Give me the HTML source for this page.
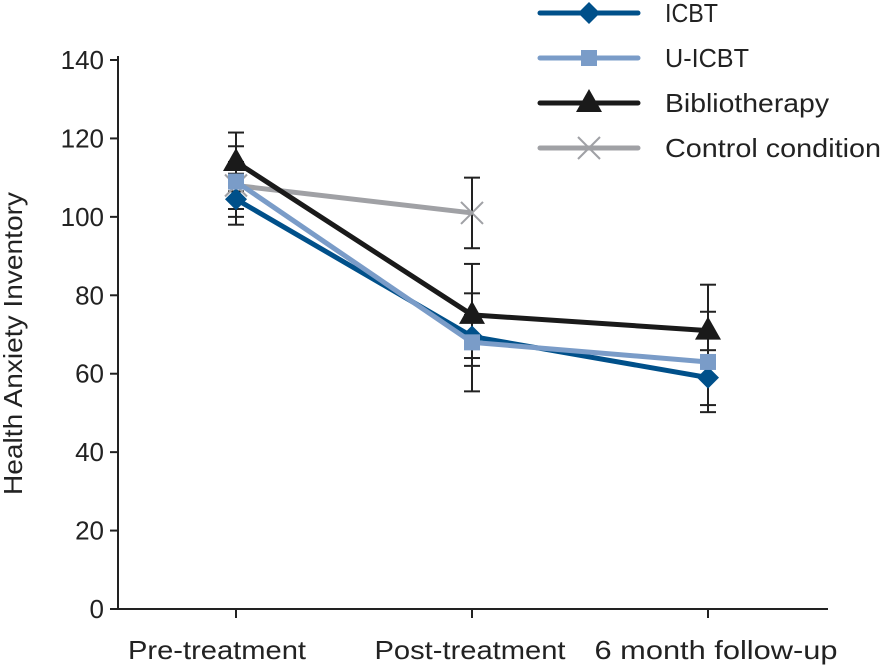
<!DOCTYPE html>
<html><head><meta charset="utf-8"><style>
body{margin:0;background:#fff}
svg{display:block;font-family:"Liberation Sans",sans-serif}
</style></head><body>
<svg id="c" width="881" height="667"></svg>
<script>
const categories=["Pre-treatment","Post-treatment","6 month follow-up"];
const yTicks=[0,20,40,60,80,100,120,140];
const icbt=[104.5,69.5,59];
const uicbt=[109,68,63];
const biblio=[114,75,71];
const control=[108,101];
const icbtErr=[6.5,5.5,7];
const uicbtErr=[9,12.5,12.8];
const biblioErr=[7.5,13,11.7];
const controlErr=[6,9];
const NS="http://www.w3.org/2000/svg";
const svg=document.getElementById('c');
const labelLayout=[{w:178,dx:-19},{w:191,dx:-2},{w:243,dx:8}];
const y=v=>609-v*(549/140);
const x=i=>236+i*236;
function el(t,a,p){const e=document.createElementNS(NS,t);for(const k in a)e.setAttribute(k,a[k]);(p||svg).appendChild(e);return e;}
let ax=el('line',{x1:118,y1:56,x2:118,y2:610,stroke:'#222','stroke-width':2});


let bx=el('line',{x1:117,y1:609,x2:828,y2:609,stroke:'#222','stroke-width':2});


yTicks.forEach(v=>{
 el('line',{x1:110,y1:y(v),x2:118,y2:y(v),stroke:'#222','stroke-width':2});
 const t=el('text',{x:104,y:y(v)+9,'text-anchor':'end','font-size':26,fill:'#222'});t.textContent=v;
 
 
});
categories.forEach((c,i)=>{
 el('line',{x1:x(i),y1:609,x2:x(i),y2:618,stroke:'#222','stroke-width':2});
 const L=labelLayout[i];
 const t=el('text',{x:x(i)+L.dx-L.w/2,y:659,'font-size':26,fill:'#222',textLength:L.w,lengthAdjust:'spacingAndGlyphs'});t.textContent=c;
 
 
});
const yt=el('text',{transform:'translate(22,495) rotate(-90)','font-size':26,fill:'#222',textLength:303,lengthAdjust:'spacingAndGlyphs'});
yt.textContent='Health Anxiety Inventory';


function marker(type,cx,cy,col,g){
 if(type==='diamond')el('polygon',{points:`${cx},${cy-11} ${cx+11},${cy} ${cx},${cy+11} ${cx-11},${cy}`,fill:col},g);
 else if(type==='square')el('rect',{x:cx-8,y:cy-8,width:16,height:16,fill:col},g);
 else if(type==='tri')el('polygon',{points:`${cx},${cy-14} ${cx+13},${cy+9} ${cx-13},${cy+9}`,fill:col},g);
 else {el('line',{x1:cx-11,y1:cy-11,x2:cx+11,y2:cy+11,stroke:col,'stroke-width':2},g);el('line',{x1:cx-11,y1:cy+11,x2:cx+11,y2:cy-11,stroke:col,'stroke-width':2},g);}
}
const series=[
 {name:'control',label:'Control condition',data:control,err:controlErr,col:'#a0a1a5',m:'x',ly:148,w:216},
 {name:'icbt',label:'ICBT',data:icbt,err:icbtErr,col:'#00508a',m:'diamond',ly:13,w:53},
 {name:'u-icbt',label:'U-ICBT',data:uicbt,err:uicbtErr,col:'#7a9cc8',m:'square',ly:58,w:84},
 {name:'bibliotherapy',label:'Bibliotherapy',data:biblio,err:biblioErr,col:'#1a1a1a',m:'tri',ly:103,w:164}
];
series.forEach(s=>{
 s.data.forEach((v,i)=>{
  const g=el('g',{});
  
  
  const a=y(v+s.err[i]),b=y(v-s.err[i]);
  el('line',{x1:x(i),y1:a,x2:x(i),y2:b,stroke:'#222','stroke-width':2},g);
  el('line',{x1:x(i)-8,y1:a,x2:x(i)+8,y2:a,stroke:'#222','stroke-width':2},g);
  el('line',{x1:x(i)-8,y1:b,x2:x(i)+8,y2:b,stroke:'#222','stroke-width':2},g);
 });
});
series.forEach(s=>{
 const g=el('g',{});
 
 
 el('polyline',{points:s.data.map((v,i)=>x(i)+','+y(v)).join(' '),fill:'none',stroke:s.col,'stroke-width':5},g);
 s.data.forEach((v,i)=>marker(s.m,x(i),y(v),s.col,g));
 const lg=el('g',{});
 
 
 el('line',{x1:540,y1:s.ly,x2:638,y2:s.ly,stroke:s.col,'stroke-width':5,'stroke-linecap':'round'},lg);
 marker(s.m,589,s.ly,s.col,lg);
 const t=el('text',{x:665,y:s.ly+9,'font-size':26,fill:'#222',textLength:s.w,lengthAdjust:'spacingAndGlyphs'},lg);t.textContent=s.label;
});
</script>
</body></html>
